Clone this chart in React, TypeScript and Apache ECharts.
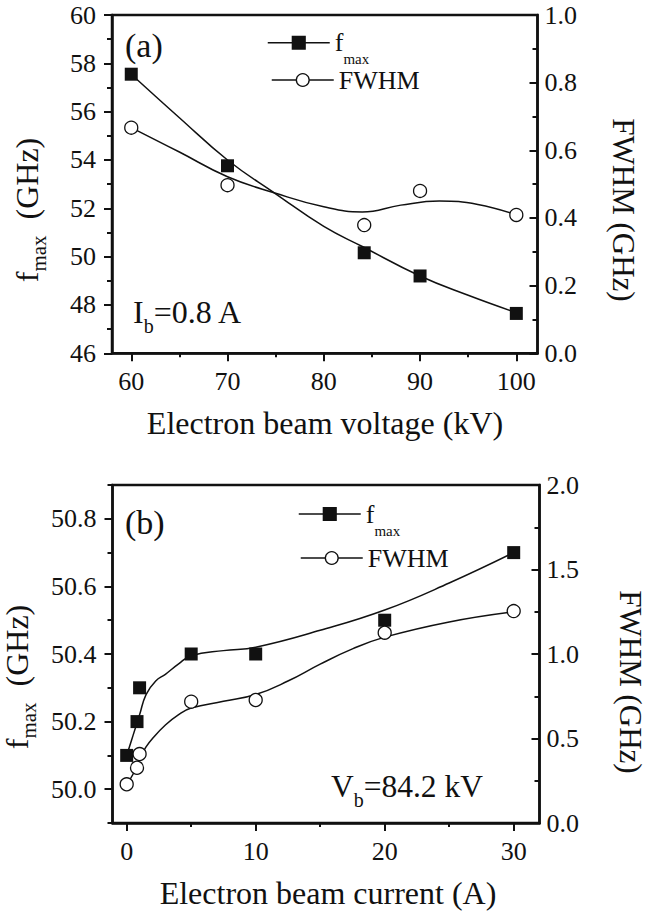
import React, { useEffect, useRef } from 'react';
import * as echarts from 'echarts';

// ---------- Data: panel (a) vs electron beam voltage ----------
const voltageKV = [60, 70, 84.2, 90, 100];
const fmaxVsVoltage = [57.55, 53.76, 50.16, 49.2, 47.65];
const fwhmVsVoltage = [0.667, 0.497, 0.379, 0.48, 0.409];

// fitted curves
const fmaxFitVoltageX = [60, 65, 70, 75, 80, 84, 90, 95, 100];
const fmaxFitVoltageY = [57.55, 55.75, 54.0, 52.6, 51.25, 50.42, 49.2, 48.4, 47.68];
const fwhmFitVoltageX = [60, 65, 70, 75, 80, 84, 88, 92, 96, 100];
const fwhmFitVoltageY = [0.667, 0.595, 0.522, 0.473, 0.433, 0.418, 0.438, 0.45, 0.44, 0.409];

// ---------- Data: panel (b) vs electron beam current ----------
const currentA = [0, 0.8, 1, 5, 10, 20, 30];
const fmaxVsCurrent = [50.1, 50.2, 50.3, 50.4, 50.4, 50.5, 50.7];
const fwhmVsCurrent = [0.229, 0.327, 0.408, 0.718, 0.728, 1.126, 1.254];

const fmaxFitCurrentX = [0, 0.5, 1, 1.5, 2.25, 3, 4, 5, 7.5, 10, 15, 20, 25, 30];
const fmaxFitCurrentY = [50.1, 50.16, 50.22, 50.28, 50.32, 50.34, 50.37, 50.395, 50.41, 50.42, 50.47, 50.53, 50.61, 50.7];
const fwhmFitCurrentX = [0, 0.5, 1, 1.5, 2, 3, 4, 5, 7.5, 10, 12.5, 15, 17.5, 20, 25, 30];
const fwhmFitCurrentY = [0.23, 0.29, 0.38, 0.45, 0.5, 0.58, 0.64, 0.68, 0.72, 0.76, 0.84, 0.94, 1.03, 1.1, 1.19, 1.25];

// ---------- Tick values ----------
const voltageTicks = [60, 70, 80, 90, 100];
const voltageMinorTicks = [65, 75, 85, 95];
const fmaxTicksA = [46, 48, 50, 52, 54, 56, 58, 60];
const fmaxMinorTicksA = [47, 49, 51, 53, 55, 57, 59];
const fwhmTicksA = [0, 0.2, 0.4, 0.6, 0.8, 1.0];
const fwhmMinorTicksA = [0.1, 0.3, 0.5, 0.7, 0.9];

const currentTicks = [0, 10, 20, 30];
const currentMinorTicks = [5, 15, 25];
const fmaxTicksB = [50.0, 50.2, 50.4, 50.6, 50.8];
const fmaxMinorTicksB = [49.9, 50.1, 50.3, 50.5, 50.7, 50.9];
const fwhmTicksB = [0, 0.5, 1.0, 1.5, 2.0];
const fwhmMinorTicksB = [0.25, 0.75, 1.25, 1.75];

const FONT = "'Liberation Serif', 'Times New Roman', Times, serif";
const INK = '#111';
const TICK_FONT = 26;
const NAME_FONT = 32;

const zip = (xs: number[], ys: number[]) => xs.map((x, i) => [x, ys[i]]);

function mainAxis(opts: any) {
  const { gridIndex, min, max, position, ticks, inside, margin, fmt, len } = opts;
  return {
    type: 'value',
    gridIndex,
    min,
    max,
    position,
    axisLine: { show: true, onZero: false, lineStyle: { color: INK, width: 2.5 } },
    axisTick: {
      show: true,
      inside: !!inside,
      length: len,
      customValues: ticks,
      lineStyle: { color: INK, width: 2 },
    },
    axisLabel: {
      show: true,
      customValues: ticks,
      margin,
      color: INK,
      fontFamily: FONT,
      fontSize: TICK_FONT,
      formatter: fmt,
    },
    splitLine: { show: false },
  };
}

function minorAxis(opts: any) {
  const { gridIndex, min, max, position, ticks, inside, len } = opts;
  return {
    type: 'value',
    gridIndex,
    min,
    max,
    position,
    axisLine: { show: false, onZero: false },
    axisTick: {
      show: true,
      inside: !!inside,
      length: len,
      customValues: ticks,
      lineStyle: { color: INK, width: 2 },
    },
    axisLabel: { show: false },
    splitLine: { show: false },
  };
}

const intFmt = (v: number) => String(Math.round(v));
const oneDec = (v: number) => v.toFixed(1);

const fitLine = (name: string, xi: number, yi: number, data: number[][]) => ({
  name,
  type: 'line',
  xAxisIndex: xi,
  yAxisIndex: yi,
  data,
  smooth: 0.45,
  symbol: 'none',
  lineStyle: { color: INK, width: 1.5 },
  z: 2,
  silent: true,
});

const markerSeries = (name: string, xi: number, yi: number, data: number[][], square: boolean) => ({
  name,
  type: 'line',
  xAxisIndex: xi,
  yAxisIndex: yi,
  data,
  symbol: square ? 'rect' : 'circle',
  symbolSize: 13,
  itemStyle: square
    ? { color: INK, borderColor: INK, borderWidth: 0 }
    : { color: '#fff', borderColor: INK, borderWidth: 1.3 },
  lineStyle: { opacity: 0, width: 0 },
  z: 5,
});

const subRich = (main: number, sub: number, lh: number) => ({
  m: { fontFamily: FONT, fontSize: main, lineHeight: lh, color: INK },
  s: { fontFamily: FONT, fontSize: sub, lineHeight: sub, verticalAlign: 'bottom', color: INK },
  n: { fontFamily: FONT, fontSize: main, lineHeight: lh, color: INK },
});

const legendNames: Record<string, string> = {
  fmaxA: '{m|f}{s|max}',
  fmaxB: '{m|f}{s|max}',
  fwhmA: '{n|FWHM}',
  fwhmB: '{n|FWHM}',
};

function legendFor(name: string, left: number, top: number, lh: number) {
  return {
    data: [name],
    left,
    top,
    orient: 'horizontal',
    padding: 0,
    itemWidth: 62,
    itemHeight: 16,
    selectedMode: false,
    formatter: (n: string) => legendNames[n],
    textStyle: { fontFamily: FONT, fontSize: 26, color: INK, rich: subRich(26, 15, lh) },
    lineStyle: { color: INK, width: 1.5, opacity: 1 },
    itemStyle: { borderWidth: 1.3 },
  };
}

function textEl(x: number, y: number, text: string, rich: any, rotation = 0, align = 'left') {
  return {
    type: 'text',
    x,
    y,
    rotation,
    silent: true,
    style: {
      text,
      rich,
      align,
      verticalAlign: 'middle',
      fontFamily: FONT,
      fill: INK,
    },
  };
}

export default function App() {
  const ref = useRef<HTMLDivElement | null>(null);

  useEffect(() => {
    if (!ref.current) return;
    const chart = echarts.init(ref.current, null, { renderer: 'svg' });

    const option: any = {
      animation: false,
      backgroundColor: '#fff',
      grid: [
        { left: 112, top: 15, width: 425.5, height: 338.3, show: true, borderColor: INK, borderWidth: 2.5, backgroundColor: 'transparent' },
        { left: 112.5, top: 485, width: 427, height: 338, show: true, borderColor: INK, borderWidth: 2.5, backgroundColor: 'transparent' },
      ],
      xAxis: [
        mainAxis({ gridIndex: 0, min: 58, max: 102.2, position: 'bottom', ticks: voltageTicks, margin: 15, fmt: intFmt, len: 8 }),
        minorAxis({ gridIndex: 0, min: 58, max: 102.2, position: 'bottom', ticks: voltageMinorTicks, len: 4 }),
        mainAxis({ gridIndex: 1, min: -1.1, max: 32, position: 'bottom', ticks: currentTicks, margin: 15, fmt: intFmt, len: 8 }),
        minorAxis({ gridIndex: 1, min: -1.1, max: 32, position: 'bottom', ticks: currentMinorTicks, len: 4 }),
      ],
      yAxis: [
        mainAxis({ gridIndex: 0, min: 46, max: 60, position: 'left', ticks: fmaxTicksA, margin: 16, fmt: intFmt, len: 8 }),
        minorAxis({ gridIndex: 0, min: 46, max: 60, position: 'left', ticks: fmaxMinorTicksA, len: 5 }),
        mainAxis({ gridIndex: 0, min: 0, max: 1, position: 'right', ticks: fwhmTicksA, inside: true, margin: 7, fmt: oneDec, len: 8 }),
        minorAxis({ gridIndex: 0, min: 0, max: 1, position: 'right', ticks: fwhmMinorTicksA, inside: true, len: 5 }),
        mainAxis({ gridIndex: 1, min: 49.9, max: 50.9, position: 'left', ticks: fmaxTicksB, margin: 16, fmt: oneDec, len: 8 }),
        minorAxis({ gridIndex: 1, min: 49.9, max: 50.9, position: 'left', ticks: fmaxMinorTicksB, len: 5 }),
        mainAxis({ gridIndex: 1, min: 0, max: 2, position: 'right', ticks: fwhmTicksB, inside: true, margin: 7, fmt: oneDec, len: 8 }),
        minorAxis({ gridIndex: 1, min: 0, max: 2, position: 'right', ticks: fwhmMinorTicksB, inside: true, len: 5 }),
      ],
      legend: [
        legendFor('fmaxA', 267, 29.7, 48),
        legendFor('fwhmA', 271, 67, 26),
        legendFor('fmaxB', 298, 501, 48),
        legendFor('fwhmB', 300, 545, 26),
      ],
      series: [
        fitLine('fmaxFitA', 0, 0, zip(fmaxFitVoltageX, fmaxFitVoltageY)),
        fitLine('fwhmFitA', 0, 2, zip(fwhmFitVoltageX, fwhmFitVoltageY)),
        markerSeries('fmaxA', 0, 0, zip(voltageKV, fmaxVsVoltage), true),
        markerSeries('fwhmA', 0, 2, zip(voltageKV, fwhmVsVoltage), false),
        fitLine('fmaxFitB', 2, 4, zip(fmaxFitCurrentX, fmaxFitCurrentY)),
        fitLine('fwhmFitB', 2, 6, zip(fwhmFitCurrentX, fwhmFitCurrentY)),
        markerSeries('fmaxB', 2, 4, zip(currentA, fmaxVsCurrent), true),
        markerSeries('fwhmB', 2, 6, zip(currentA, fwhmVsCurrent), false),
      ],
      graphic: [
        // panel labels
        textEl(125, 45, '{n|(a)}', subRich(34, 18, 34)),
        textEl(125, 522, '{n|(b)}', subRich(34, 18, 34)),
        textEl(133, 312, '{m|I}{s|b}{m|=0.8 A}', subRich(32, 20, 47)),
        textEl(331, 786, '{m|V}{s|b}{m|=84.2 kV}', subRich(31.5, 20, 47)),
        // axis names
        textEl(325, 422.5, '{n|Electron beam voltage (kV)}', subRich(NAME_FONT, 18, NAME_FONT), 0, 'center'),
        textEl(328, 892.5, '{n|Electron beam current (A)}', subRich(NAME_FONT, 18, NAME_FONT), 0, 'center'),
        textEl(27, 210, '{m|f}{s|max}{m|  (GHz)}', subRich(NAME_FONT, 21, 45), Math.PI / 2, 'center'),
        textEl(17, 677, '{m|f}{s|max}{m|  (GHz)}', subRich(NAME_FONT, 21, 45), Math.PI / 2, 'center'),
        textEl(623, 210, '{n|FWHM (GHz)}', subRich(31, 18, 31), -Math.PI / 2, 'center'),
        textEl(630, 682, '{n|FWHM (GHz)}', subRich(31, 18, 31), -Math.PI / 2, 'center'),
      ],
    };

    chart.setOption(option);
    return () => {
      chart.dispose();
    };
  }, []);

  return (
    <div
      ref={ref}
      style={{ position: 'fixed', left: 0, top: 0, width: 646, height: 911, background: '#fff' }}
    />
  );
}
